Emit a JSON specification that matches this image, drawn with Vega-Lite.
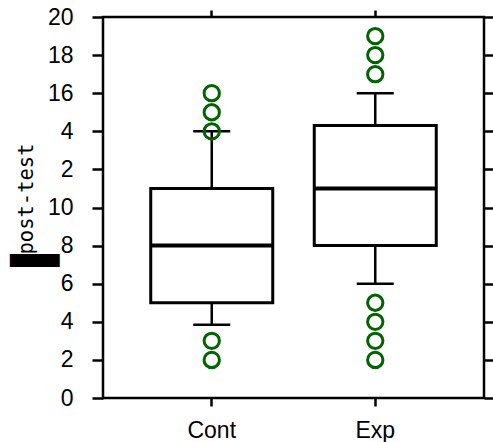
{
  "$schema": "https://vega.github.io/schema/vega-lite/v6.json",
  "width": 381,
  "height": 381,
  "autosize": {"type": "none"},
  "padding": {"left": 103, "top": 17, "right": 9, "bottom": 44},
  "background": "white",
  "title": {"text": "▌", "orient": "left", "anchor": "middle", "font": "DejaVu Sans Mono", "fontSize": 42, "fontWeight": "normal", "color": "black", "offset": -83, "dx": -46.5, "baseline": "bottom"},
  "config": {
    "view": {"stroke": "black", "strokeWidth": 2.5},
    "axis": {
      "domain": false,
      "grid": false,
      "tickColor": "black",
      "tickWidth": 2.5,
      "labelColor": "black",
      "labelFont": "Liberation Sans",
      "labelFontSize": 23,
      "titleColor": "black"
    }
  },
  "datasets": {
    "boxes": [
      {"group": "Cont", "lower": 3.85, "q1": 5, "median": 8, "q3": 11, "upper": 14},
      {"group": "Exp", "lower": 6, "q1": 8, "median": 11, "q3": 14.3, "upper": 16}
    ],
    "outliers": [
      {"group": "Cont", "value": 2},
      {"group": "Cont", "value": 3},
      {"group": "Cont", "value": 14},
      {"group": "Cont", "value": 15},
      {"group": "Cont", "value": 16},
      {"group": "Exp", "value": 2},
      {"group": "Exp", "value": 3},
      {"group": "Exp", "value": 4},
      {"group": "Exp", "value": 5},
      {"group": "Exp", "value": 17},
      {"group": "Exp", "value": 18},
      {"group": "Exp", "value": 19}
    ]
  },
  "resolve": {"axis": {"x": "independent", "y": "independent"}},
  "layer": [
    {
      "data": {"name": "boxes"},
      "mark": {"type": "rule", "color": "black", "strokeWidth": 2.5},
      "encoding": {
        "x": {
          "field": "group", "type": "nominal",
          "scale": {"domain": ["Cont", "Exp"], "paddingInner": 0, "paddingOuter": 0.165},
          "axis": {"orient": "bottom", "title": null, "labelAngle": 0, "tickSize": 8, "labelPadding": 13, "bandPosition": 0.5, "labelBaseline": "top"}
        },
        "y": {
          "field": "lower", "type": "quantitative",
          "scale": {"domain": [0, 20], "nice": false, "zero": false},
          "axis": {
            "orient": "left",
            "values": [0, 2, 4, 6, 8, 10, 12, 14, 16, 18, 20],
            "labelExpr": "datum.value == 14 ? '4' : datum.value == 12 ? '2' : datum.label",
            "tickSize": 11,
            "labelPadding": 19,
            "title": "post-test",
            "titleFont": "DejaVu Sans Mono",
            "titleFontSize": 20.5,
            "titleFontWeight": "normal",
            "titleAngle": -90,
            "titleAlign": "center",
            "titleBaseline": "alphabetic",
            "titleX": -70.5,
            "titleY": 181.5
          }
        },
        "y2": {"field": "upper"}
      }
    },
    {
      "data": {"name": "boxes"},
      "mark": {"type": "bar", "size": 122, "fill": "white", "stroke": "black", "strokeWidth": 3},
      "encoding": {
        "x": {
          "field": "group", "type": "nominal",
          "axis": {"orient": "top", "title": null, "labels": false, "tickSize": 7, "bandPosition": 0.5}
        },
        "y": {
          "field": "q1", "type": "quantitative",
          "axis": {"orient": "right", "title": null, "labels": false, "tickSize": 9, "values": [0, 2, 4, 6, 8, 10, 12, 14, 16, 18, 20]}
        },
        "y2": {"field": "q3"}
      }
    },
    {
      "data": {"name": "boxes"},
      "mark": {"type": "tick", "size": 122, "thickness": 4, "color": "black", "opacity": 1},
      "encoding": {
        "x": {"field": "group", "type": "nominal", "axis": null},
        "y": {"field": "median", "type": "quantitative", "axis": null}
      }
    },
    {
      "data": {"name": "boxes"},
      "mark": {"type": "tick", "size": 37, "thickness": 2.5, "color": "black", "opacity": 1},
      "encoding": {
        "x": {"field": "group", "type": "nominal", "axis": null},
        "y": {"field": "upper", "type": "quantitative", "axis": null}
      }
    },
    {
      "data": {"name": "boxes"},
      "mark": {"type": "tick", "size": 37, "thickness": 2.5, "color": "black", "opacity": 1},
      "encoding": {
        "x": {"field": "group", "type": "nominal", "axis": null},
        "y": {"field": "lower", "type": "quantitative", "axis": null}
      }
    },
    {
      "data": {"name": "outliers"},
      "mark": {"type": "point", "shape": "circle", "filled": false, "stroke": "#006400", "strokeWidth": 3, "size": 235, "opacity": 1},
      "encoding": {
        "x": {"field": "group", "type": "nominal", "axis": null},
        "y": {"field": "value", "type": "quantitative", "axis": null}
      }
    }
  ]
}
